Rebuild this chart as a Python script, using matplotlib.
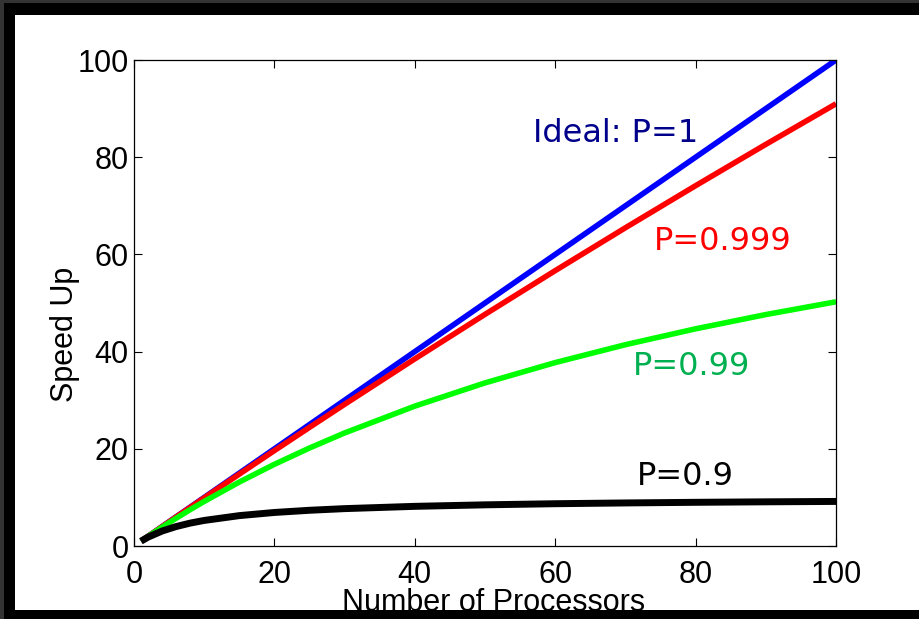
import matplotlib
matplotlib.use("Agg")
import matplotlib.pyplot as plt
from matplotlib.patches import Rectangle
from matplotlib import font_manager

# values
processors = [1, 2, 4, 6, 8, 10, 15, 20, 25, 30, 40, 50, 60, 70, 80, 90, 100]
speedup_ideal = [1, 2, 4, 6, 8, 10, 15, 20, 25, 30, 40, 50, 60, 70, 80, 90, 100]
speedup_p999 = [1, 2.0, 3.99, 5.97, 7.94, 9.91, 14.79, 19.63, 24.41, 29.15, 38.5, 47.66, 56.66, 65.48, 74.14, 82.64, 90.99]
speedup_p99 = [1, 1.98, 3.88, 5.71, 7.48, 9.17, 13.16, 16.81, 20.16, 23.26, 28.78, 33.56, 37.74, 41.42, 44.69, 47.62, 50.25]
speedup_p9 = [1, 1.82, 3.08, 4.0, 4.71, 5.26, 6.25, 6.9, 7.35, 7.69, 8.16, 8.47, 8.7, 8.86, 8.99, 9.09, 9.17]
ticks = [0, 20, 40, 60, 80, 100]

W, H = 919, 619
installed = {f.name for f in font_manager.fontManager.ttflist}
narrow = "Liberation Sans Narrow" if "Liberation Sans Narrow" in installed else "Liberation Sans"
fsize = 26 if narrow == "Liberation Sans Narrow" else 22

fig = plt.figure(figsize=(W / 100, H / 100), dpi=100)
ax = fig.add_axes([134 / W, 1 - 546 / H, (836 - 134) / W, (546 - 60) / H])

ax.plot(processors, speedup_ideal, color="#0000ff", lw=4, solid_capstyle="butt")
ax.plot(processors, speedup_p999, color="#ff0000", lw=4, solid_capstyle="butt")
ax.plot(processors, speedup_p99, color="#00ff00", lw=4, solid_capstyle="butt")
ax.plot(processors, speedup_p9, color="black", lw=5, solid_capstyle="butt")

ax.set_xlim(0, 100)
ax.set_ylim(0, 100)
ax.set_xticks(ticks)
ax.set_yticks(ticks)
ax.tick_params(direction="in", length=6, width=0.8, top=True, right=True,
               labelsize=fsize)
ax.tick_params(axis="x", pad=10)
ax.tick_params(axis="y", pad=4)
for lab in ax.get_xticklabels() + ax.get_yticklabels():
    lab.set_fontfamily(narrow)
for s in ax.spines.values():
    s.set_linewidth(0.9)

# curve labels
ax.text(56.8, 83.1, "Ideal: P=1", color="#00008b", fontsize=23, family="DejaVu Sans", va="baseline")
ax.text(74.1, 60.9, "P=0.999", color="#ff0000", fontsize=23, family="DejaVu Sans", va="baseline")
ax.text(71.1, 35.2, "P=0.99", color="#00b050", fontsize=23, family="DejaVu Sans", va="baseline")
ax.text(71.7, 12.6, "P=0.9", color="black", fontsize=23, family="DejaVu Sans", va="baseline")

# axis labels (placed in pixels like the original export)
fig.text(494 / W, 8 / H, "Number of Processors", fontsize=fsize, family=narrow,
         ha="center", va="baseline")
fig.text(73 / W, 1 - 334 / H, "Speed Up", fontsize=fsize, family=narrow,
         rotation=90, rotation_mode="anchor", ha="center", va="baseline")

# dark frame around the picture
def frame(x0, y0, x1, y1, color):
    fig.add_artist(Rectangle((x0 / W, 1 - y1 / H), (x1 - x0) / W, (y1 - y0) / H,
                             transform=fig.transFigure, color=color, lw=0, zorder=10))

frame(0, 0, W, 3, "#333333")
frame(0, 0, 4, H, "#333333")
frame(4, 3, W, 15, "black")
frame(4, 3, 15, H, "black")
frame(4, 610, W, H, "black")

fig.savefig("out.png", dpi=100)
